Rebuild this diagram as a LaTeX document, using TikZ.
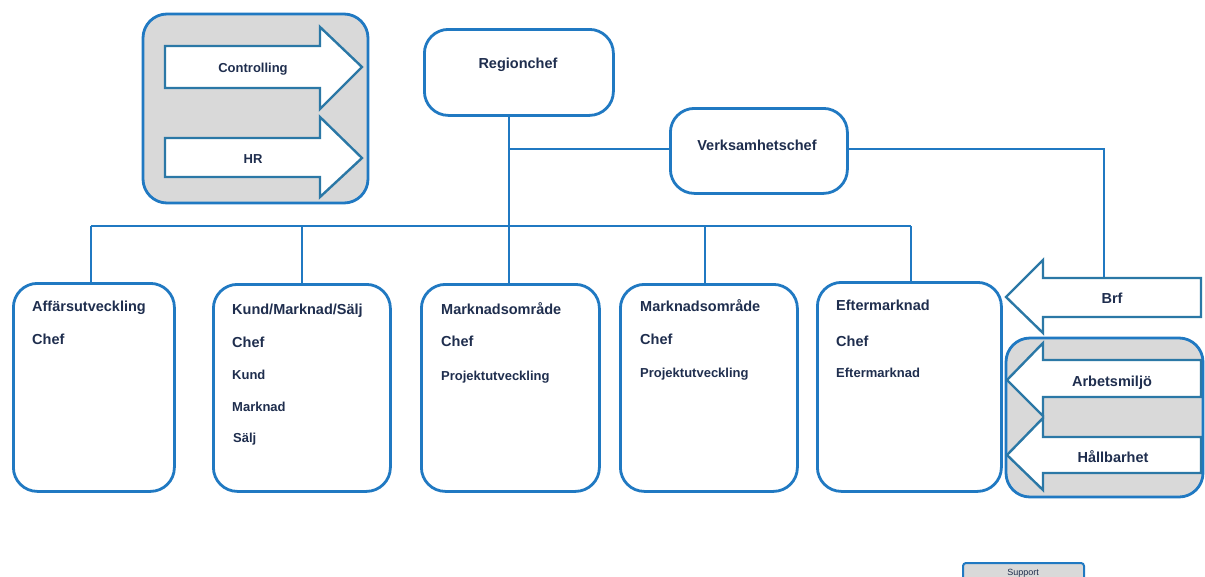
\documentclass[tikz,border=0pt]{standalone}
\usepackage{fontspec}
\setmainfont{Liberation Sans}
\definecolor{orgblue}{HTML}{2079C2}
\definecolor{arrblue}{HTML}{2B78A6}
\definecolor{txtnavy}{HTML}{1F2E4E}
\definecolor{panelgray}{HTML}{D9D9D9}
\begin{document}
\begin{tikzpicture}[x=1pt,y=-1pt,
  unitbox/.style={draw=orgblue,line width=2.8pt,rounded corners=24pt,fill=white,
    anchor=north west,inner sep=0pt},
  panel/.style={draw=orgblue,line width=2.8pt,rounded corners=24pt,fill=panelgray},
  flow/.style={draw=arrblue,line width=2.4pt,fill=white,line join=miter},
  link/.style={draw=orgblue,line width=2.8pt},
  head/.style={font=\fontsize{14.5}{16}\selectfont\bfseries,text=txtnavy,inner sep=0pt},
  ttl/.style={head,anchor=base west},
  sub/.style={font=\fontsize{13}{15}\selectfont\bfseries,text=txtnavy,inner sep=0pt,anchor=base west},
  arrtxt/.style={font=\fontsize{13}{15}\selectfont\bfseries,text=txtnavy,inner sep=0pt,anchor=base},
  sidetxt/.style={head,anchor=base}]
\useasboundingbox (0,0) rectangle (1205,576);
\fill[white] (0,0) rectangle (1205,576);

% staff panel with Controlling and HR
\path[panel] (143,14) rectangle (368,203);
\path[flow] (165,46) -- (320,46) -- (320,27) -- (362,67) -- (320,109) -- (320,88) -- (165,88) -- cycle;
\path[flow] (165,138) -- (320,138) -- (320,117) -- (362,158) -- (320,197) -- (320,177) -- (165,177) -- cycle;
\node[arrtxt] (controlling) at (253,72) {Controlling};
\node[arrtxt] (hr) at (253,163) {HR};

% management
\node[unitbox,minimum width=189pt,minimum height=86pt] (region) at (423,28) {};
\node[sidetxt] (regiontxt) at (518,68) {Regionchef};
\node[unitbox,minimum width=177pt,minimum height=85pt] (verks) at (669,107) {};
\node[sidetxt] (verkstxt) at (757,150) {Verksamhetschef};

% business units
\node[unitbox,minimum width=161pt,minimum height=208pt] (aff) at (12,282) {};
\node[unitbox,minimum width=177pt,minimum height=207pt] (kund) at (212,283) {};
\node[unitbox,minimum width=178pt,minimum height=207pt] (mo1) at (420,283) {};
\node[unitbox,minimum width=177pt,minimum height=207pt] (mo2) at (619,283) {};
\node[unitbox,minimum width=184pt,minimum height=209pt] (efter) at (816,281) {};

\node[ttl] (aff1) at (32,311) {Affärsutveckling};
\node[ttl] (aff2) at (32,344) {Chef};

\node[ttl] (kund1) at (232,314) {Kund/Marknad/Sälj};
\node[ttl] (kund2) at (232,347) {Chef};
\node[sub] (kund3) at (232,379) {Kund};
\node[sub] (kund4) at (232,411) {Marknad};
\node[sub] (kund5) at (233,442) {Sälj};

\node[ttl] (mo11) at (441,314) {Marknadsområde};
\node[ttl] (mo12) at (441,346) {Chef};
\node[sub] (mo13) at (441,380) {Projektutveckling};

\node[ttl] (mo21) at (640,311) {Marknadsområde};
\node[ttl] (mo22) at (640,344) {Chef};
\node[sub] (mo23) at (640,377) {Projektutveckling};

\node[ttl] (ef1) at (836,310) {Eftermarknad};
\node[ttl] (ef2) at (836,346) {Chef};
\node[sub] (ef3) at (836,377) {Eftermarknad};

% connectors
\coordinate (spine) at (509,149);
\coordinate (bus) at (509,226);
\coordinate (busL) at (91,226);
\coordinate (busR) at (911,226);
\coordinate (brfturn) at (1104,149);
\draw[link] (region.south -| spine) -- (mo1.north -| spine);
\draw[link] (spine) -- (verks.west |- spine);
\draw[link] (verks.east |- spine) -- (brfturn) -- (1104,279);
\draw[link] (busL) -- (busR);
\draw[link] (busL) -- (aff.north -| busL);
\draw[link] (302,226) -- (kund.north -| 302,0);
\draw[link] (705,226) -- (mo2.north -| 705,0);
\draw[link] (busR) -- (efter.north -| busR);

% external arrow Brf
\path[flow] (1201,278) -- (1043,278) -- (1043,260) -- (1006,297) -- (1043,333) -- (1043,317) -- (1201,317) -- cycle;
\node[sidetxt] (brf) at (1112,303) {Brf};

% support panel on the right
\path[panel] (1006,338) rectangle (1203,497);
\path[flow] (1201,360) -- (1043,360) -- (1043,343) -- (1007,380) -- (1043,416) -- (1043,397) -- (1201,397) -- cycle;
\path[flow] (1201,437) -- (1043,437) -- (1043,418) -- (1007,455) -- (1043,490) -- (1043,473) -- (1201,473) -- cycle;
\node[sidetxt] (arb) at (1112,386) {Arbetsmiljö};
\node[sidetxt] (hall) at (1113,462) {Hållbarhet};

% legend
\draw[draw=orgblue,line width=2pt,fill=panelgray,rounded corners=3pt] (963,563) rectangle (1084,590);
\node[font=\fontsize{9}{10}\selectfont,text=txtnavy,inner sep=0pt,anchor=base] (support) at (1023,575) {Support};
\end{tikzpicture}
\end{document}
